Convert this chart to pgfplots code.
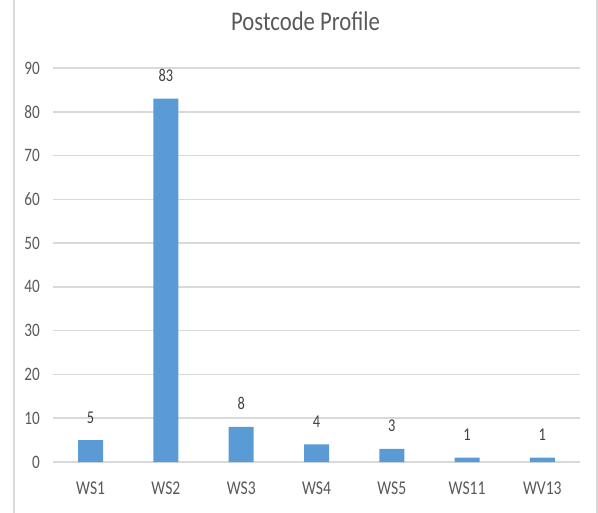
\documentclass[border=0pt]{standalone}
\usepackage{fontspec}
\setmainfont{Carlito}[FakeStretch=0.8]
\newfontfamily\titlefont{Carlito}[FakeStretch=0.84]
\usepackage{pgfplots}
\pgfplotsset{compat=1.18}
\definecolor{barblue}{HTML}{5B9BD5}
\definecolor{gridgray}{HTML}{D9D9D9}
\definecolor{txtgray}{HTML}{595959}
\definecolor{lblgray}{HTML}{404040}
\begin{document}
\begin{tikzpicture}
\useasboundingbox (-53bp,-51bp) rectangle (545bp,462bp);
\draw[gridgray, line width=1.2bp] (-39bp,-51bp) -- (-39bp,462bp);
\draw[gridgray, line width=1.2bp] (544bp,-51bp) -- (544bp,462bp);
\begin{axis}[
  at={(0,0)}, anchor=south west,
  scale only axis,
  width=527bp, height=394bp,
  ymin=0, ymax=90,
  xmin=-0.5, xmax=6.5,
  ytick={0,10,...,90},
  xtick=data,
  xticklabels={WS1,WS2,WS3,WS4,WS5,WS11,WV13},
  axis line style={draw=none},
  tick style={draw=none},
  ymajorgrids,
  grid style={gridgray, line width=1.5bp},
  /pgf/number format/assume math mode=true,
  yticklabel style={inner sep=0pt, anchor=east, xshift=-13bp, font=\fontsize{19bp}{21bp}\selectfont, text=txtgray},
  xticklabel style={inner sep=0pt, anchor=north, yshift=-20bp, font=\fontsize{19.5bp}{21bp}\selectfont, text=txtgray},
  clip=false,
]
\addplot[ybar, bar width=25bp, fill=barblue, draw=none,
  nodes near coords,
  every node near coord/.append style={anchor=base, yshift=17bp, inner sep=0pt, font=\fontsize{18bp}{20bp}\selectfont, text=lblgray}]
  coordinates {(0,5) (1,83) (2,8) (3,4) (4,3) (5,1) (6,1)};
\end{axis}
\node[anchor=base, inner sep=0pt, font=\titlefont\fontsize{27bp}{30bp}\selectfont, text=txtgray] at (252.5bp,431bp) {Postcode Profile};
\end{tikzpicture}
\end{document}
